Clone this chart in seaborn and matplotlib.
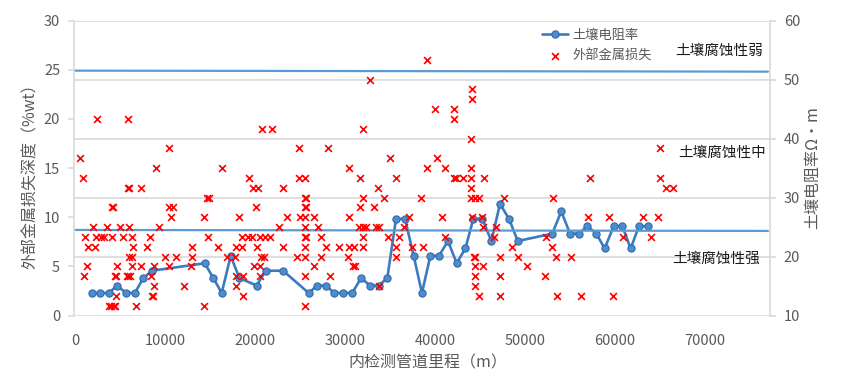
import matplotlib
matplotlib.use("Agg")
import matplotlib.pyplot as plt
import numpy as np
import pandas as pd
import seaborn as sns

# ---------------- data ----------------
resist_mileage = [1850, 2800, 3780, 4670, 5670, 6650, 7590, 8560, 14420, 15370,
                  16300, 17300, 18260, 20190, 21190, 23120, 25960, 26920, 27850, 28810,
                  29810, 30810, 31780, 32780, 33740, 34700, 35670, 36670, 37630, 38550,
                  39480, 40440, 41440, 42410, 43370, 44260, 45260, 46260, 47220, 48220,
                  49190, 53030, 54030, 55000, 55960, 56920, 57920, 58850, 59850, 60810,
                  61740, 62660, 63670]
resist_value = [13.82, 13.82, 13.82, 15.08, 13.82, 13.82, 16.34, 17.59, 18.85, 16.34,
                13.82, 20.11, 16.34, 15.08, 17.59, 17.59, 13.82, 15.08, 15.08, 13.82,
                13.82, 13.82, 16.34, 15.08, 15.08, 16.34, 26.39, 26.39, 20.11, 13.82,
                20.11, 20.11, 22.62, 18.85, 21.36, 26.39, 26.39, 22.62, 28.90, 26.39,
                22.62, 23.88, 27.65, 23.88, 23.88, 25.13, 23.88, 21.36, 25.13, 25.13,
                21.36, 25.13, 25.13]

loss_mileage = [
    555, 850, 1000, 1110, 1370, 1480, 2030, 2220, 2330, 2410, 2890, 3220, 3520, 3800, 3950,
    4100, 4200, 4150, 4300, 4450, 4450, 4550, 4600, 4630, 5000, 5370, 5800, 5900, 5850, 6000,
    5920, 6000, 6000, 6110, 6300, 6370, 6370, 6480, 6740, 7330, 7330, 7960, 8330, 8440, 8520,
    8700, 8810, 8810, 9000, 9370, 10000, 10400, 10440, 10480, 10630, 10920, 11220, 12140, 12850, 12960,
    12960,
    14330, 14330, 14700, 14900, 14810, 15920, 16300, 16850, 17780, 17890, 17890, 17890, 18260, 18520,
    18520, 18700, 18700, 19260, 19370, 19630, 19810, 19890, 20110, 20190, 20370, 20550, 20550, 20550,
    20670, 20740, 21000, 21110, 21670, 21850, 22700, 23150, 23150, 23520, 24630, 24920, 24920, 25000,
    25560, 25560, 25700, 25560, 25700, 25560, 25560, 25560, 25700, 25560, 25560, 25560, 25560,
    26590, 26590, 26960, 27330, 27330, 27890, 28070, 28330, 29300, 30300, 30480, 30480, 30480, 30850,
    31040, 31150, 31590, 31670, 31670, 31960, 31960, 32040, 32040, 32040, 32330, 32780, 33260, 33440,
    33630, 33810, 33810, 34370, 34740, 35030, 35670, 35670, 35670, 35960, 36590, 37150, 37440, 38440,
    38630,
    39110, 39110, 39960, 40220, 40780, 41080, 41150, 42070, 42070, 42070, 42330, 43070, 44030, 44030,
    44030, 44030, 44030, 44100, 44100, 44110, 44300, 44410, 44480, 44480, 44480, 44480, 44850, 44850,
    45220, 45300, 45330, 45410, 46520, 46780, 47190, 47190, 47190, 47630, 48560, 49220, 50250,
    52260, 52370, 53000, 53100, 53480, 53590, 55150, 56260, 57000, 57190, 59330, 59780, 60890, 63110,
    64030, 64800, 65000, 65000, 65700, 66400]
loss_depth = [
    16, 14, 4, 8, 5, 7, 9, 7, 8, 20, 8, 8, 9, 1, 1,
    11, 11, 8, 1, 1, 4, 2, 4, 5, 9, 8, 4, 4, 13, 13,
    20, 9, 6, 4, 6, 8, 5, 7, 1, 13, 5, 7, 8, 4, 2,
    2, 5, 3, 15, 9, 6, 17, 11, 5, 10, 11, 6, 3, 5, 7,
    6,
    10, 1, 12, 12, 8, 7, 15, 6, 6, 7, 4, 3, 10, 8,
    7, 4, 2, 8, 14, 8, 13, 5, 11, 7, 13, 8, 5, 4,
    6, 19, 6, 8, 8, 19, 9, 13, 7, 10, 6, 17, 14, 10,
    14, 12, 12, 11, 11, 10, 9, 8, 8, 7, 6, 4, 1,
    10, 5, 9, 8, 6, 7, 17, 4, 7, 6, 15, 10, 7, 5,
    7, 5, 9, 14, 11, 9, 8, 19, 12, 7, 9, 24, 11, 9,
    13, 9, 3, 12, 8, 16, 14, 7, 6, 8, 9, 10, 7, 12,
    7,
    26, 15, 21, 16, 10, 8, 15, 21, 20, 14, 14, 14, 18, 15,
    14, 13, 12, 23, 22, 10, 6, 3, 12, 6, 5, 4, 12, 2,
    10, 9, 5, 14, 8, 9, 6, 4, 2, 12, 7, 6, 5,
    4, 8, 7, 12, 6, 2, 6, 2, 10, 14, 10, 2, 8, 10,
    8, 10, 17, 14, 13, 13]

boundary_mileage = [0, 77000]
weak_boundary = [24.9, 24.8]     # 土壤腐蚀性弱 分界线 (left-axis units)
strong_boundary = [8.7, 8.6]     # 土壤腐蚀性强 分界线 (left-axis units)

x_ticks = [0, 10000, 20000, 30000, 40000, 50000, 60000, 70000]
left_ticks = [0, 5, 10, 15, 20, 25, 30]
right_ticks = [10, 20, 30, 40, 50, 60]

df_res = pd.DataFrame({"mileage": resist_mileage, "resistivity": resist_value})
df_loss = pd.DataFrame({"mileage": loss_mileage, "depth": loss_depth})
df_weak = pd.DataFrame({"mileage": boundary_mileage, "v": weak_boundary})
df_strong = pd.DataFrame({"mileage": boundary_mileage, "v": strong_boundary})

# ---------------- style ----------------
sns.set_theme(style="white")
plt.rcParams["font.family"] = ["Noto Sans CJK SC", "DejaVu Sans"]
plt.rcParams["axes.unicode_minus"] = False

W, H = 865, 383
fig = plt.figure(figsize=(W / 100, H / 100), dpi=100)
L, R, T, B = 74, 770, 20.5, 315.5
ax = fig.add_axes([L / W, 1 - B / H, (R - L) / W, (B - T) / H])
ax2 = ax.twinx()
ax.set_zorder(ax2.get_zorder() + 1)
ax.patch.set_visible(False)

grid_c = "#d9d9d9"
txt_c = "#595959"
blue_line = "#3b7bc0"
bound_c = "#5b9bd5"

# right axis: resistivity line
sns.lineplot(data=df_res, x="mileage", y="resistivity", ax=ax2, color=blue_line,
             linewidth=1.9, marker="o", markersize=5.2, markerfacecolor="#4f8ccc",
             markeredgecolor="#2f6aae", markeredgewidth=0.8,
             estimator=None, sort=False, label="土壤电阻率")

# left axis: boundaries + scatter
sns.lineplot(data=df_weak, x="mileage", y="v", ax=ax, color=bound_c, linewidth=1.6,
             estimator=None, sort=False, legend=False, zorder=1)
sns.lineplot(data=df_strong, x="mileage", y="v", ax=ax, color=bound_c, linewidth=1.6,
             estimator=None, sort=False, legend=False, zorder=1)
sns.scatterplot(data=df_loss, x="mileage", y="depth", ax=ax, marker="x", color="#ff0000",
                s=24, linewidth=1.2, label="外部金属损失", zorder=3)

# limits / ticks
ax.set_xlim(-110, 77220)
ax.set_xticks(x_ticks)
ax.set_xticklabels([str(v) for v in x_ticks])
ax.set_ylim(0, 30)
ax.set_yticks(left_ticks)
ax2.set_ylim(10, 60)
ax2.set_yticks(right_ticks)

ax.grid(False)
ax2.grid(False)
ax2.yaxis.grid(True, color=grid_c, linewidth=1.2)
ax2.set_axisbelow(True)

for a in (ax, ax2):
    for s in a.spines.values():
        s.set_visible(False)
ax.spines["left"].set_visible(True)
ax.spines["left"].set_color(grid_c)
ax.spines["left"].set_linewidth(1.2)
ax2.spines["right"].set_visible(True)
ax2.spines["right"].set_color(grid_c)
ax2.spines["right"].set_linewidth(1.2)

ax.tick_params(axis="y", left=True, length=4, width=1.2, color=grid_c,
               labelcolor=txt_c, labelsize=10.5, pad=6)
ax.tick_params(axis="x", bottom=False, length=0, labelcolor=txt_c, labelsize=10.5, pad=13)
ax2.tick_params(axis="y", right=True, length=4, width=1.2, color=grid_c,
                labelcolor=txt_c, labelsize=10.5, pad=6)

# axis labels
ax.set_xlabel("内检测管道里程（m）", fontsize=11.5, color=txt_c, va="center")
ax.xaxis.set_label_coords((428 - L) / (R - L), (B - 363) / (B - T))
ax.set_ylabel("外部金属损失深度（%wt）", fontsize=11.5, color=txt_c, va="center")
ax.yaxis.set_label_coords((30 - L) / (R - L), (B - 172) / (B - T))
ax2.set_ylabel("土壤电阻率Ω·m", fontsize=11.5, color=txt_c, va="center")
ax2.yaxis.set_label_coords((813 - L) / (R - L), (B - 168) / (B - T))

# annotations
ax.text(71560, 26.9, "土壤腐蚀性弱", fontsize=10.5, color="#1a1a1a", ha="center", va="center")
ax.text(71900, 16.5, "土壤腐蚀性中", fontsize=10.5, color="#1a1a1a", ha="center", va="center")
ax.text(71250, 5.8, "土壤腐蚀性强", fontsize=10.5, color="#1a1a1a", ha="center", va="center")

# legend
h1, l1 = ax2.get_legend_handles_labels()
h2, l2 = ax.get_legend_handles_labels()
for a in (ax, ax2):
    if a.get_legend() is not None:
        a.get_legend().remove()
fig.legend(h1 + h2, l1 + l2, loc="upper left", bbox_to_anchor=(542 / W, 1 - 29 / H),
           frameon=False, fontsize=9.5, labelcolor=txt_c, labelspacing=0.55,
           handlelength=2.0, handletextpad=0.3, borderpad=0, borderaxespad=0)

fig.savefig("out.png", dpi=100)
